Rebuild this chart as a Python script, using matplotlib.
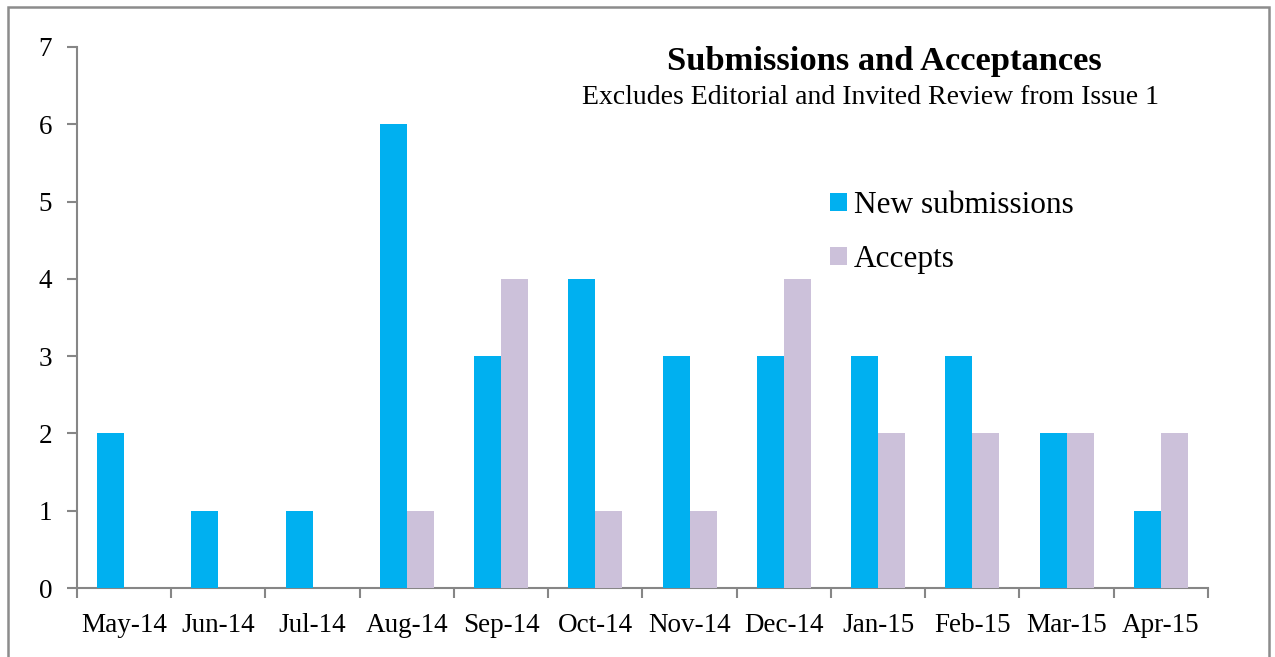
import matplotlib.pyplot as plt
import matplotlib.patches as mpatches
import numpy as np

months = ["May-14", "Jun-14", "Jul-14", "Aug-14", "Sep-14", "Oct-14",
          "Nov-14", "Dec-14", "Jan-15", "Feb-15", "Mar-15", "Apr-15"]
new_submissions = [2, 1, 1, 6, 3, 4, 3, 3, 3, 3, 2, 1]
accepts = [0, 0, 0, 1, 4, 1, 1, 4, 2, 2, 2, 2]

blue = "#00B0F0"
lavender = "#CCC1DA"
grey = "#868686"

plt.rcParams['font.family'] = ['Liberation Serif', 'DejaVu Serif']

fig = plt.figure(figsize=(12.75, 6.57), dpi=100)
ax = fig.add_axes([0.0604, 0.105, 0.887, 0.8235])

x = np.arange(len(months))
w = 0.287
ax.bar(x - w / 2, new_submissions, w, color=blue, label="New submissions", zorder=3)
ax.bar(x + w / 2, accepts, w, color=lavender, label="Accepts", zorder=3)

ax.set_xlim(-0.5, len(months) - 0.5)
ax.set_ylim(0, 7)
ax.set_yticks(range(8))

# category ticks sit on the boundaries, labels in the middle
ax.set_xticks(np.arange(-0.5, len(months), 1.0))
ax.set_xticklabels([])
ax.set_xticks(x, minor=True)
ax.set_xticklabels(months, minor=True)
ax.tick_params(axis='x', which='minor', length=0, labelsize=19.5, pad=18)
ax.tick_params(axis='x', which='major', length=7, color=grey, width=1.5)
ax.tick_params(axis='y', length=7, color=grey, width=1.5, labelsize=19.5, pad=11)

for s in ["top", "right"]:
    ax.spines[s].set_visible(False)
for s in ["left", "bottom"]:
    ax.spines[s].set_color(grey)
    ax.spines[s].set_linewidth(1.5)

fig.text(0.694, 0.906, "Submissions and Acceptances", ha="center", va="center",
         fontsize=24.8, fontweight="bold")
fig.text(0.683, 0.851, "Excludes Editorial and Invited Review from Issue 1",
         ha="center", va="center", fontsize=20)

ax.legend(loc="upper left", bbox_to_anchor=(0.651, 0.709), bbox_transform=fig.transFigure,
          frameon=False, fontsize=22.5, handlelength=0.54, handleheight=0.54,
          handletextpad=0.23, labelspacing=0.8, borderaxespad=0, borderpad=0)

# outer border of the chart area
fig.patches.append(mpatches.Rectangle((0.0063, -0.05), 0.9890, 1.04, transform=fig.transFigure,
                                      fill=False, edgecolor="#8C8C8C", linewidth=1.8))

fig.savefig("out.png", dpi=100)
